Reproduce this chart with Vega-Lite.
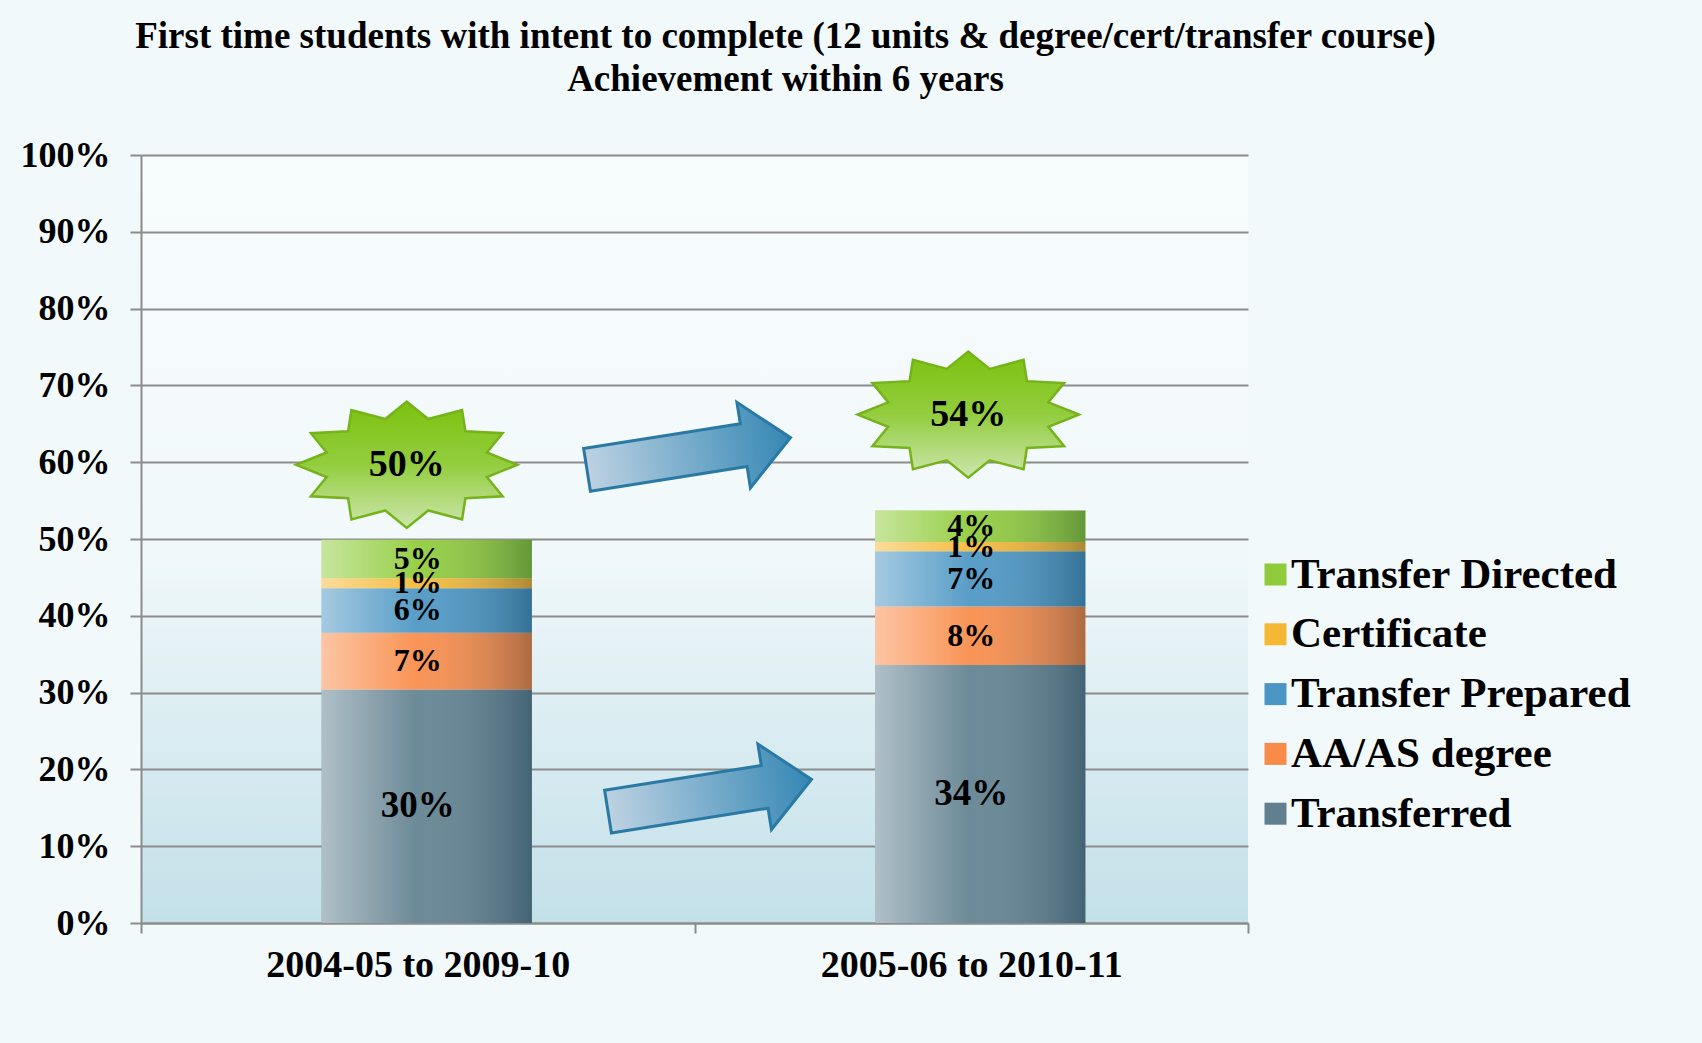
{
  "$schema": "https://vega.github.io/schema/vega-lite/v6.json",
  "width": 1107,
  "height": 768,
  "autosize": {"type": "none"},
  "padding": {"left": 141, "top": 155, "right": 454, "bottom": 120},
  "background": "#f2f9fb",
  "title": {
    "text": ["First time students with intent to complete (12 units & degree/cert/transfer course)", "Achievement within 6 years"],
    "font": "Liberation Serif",
    "fontSize": 37,
    "fontWeight": "bold",
    "color": "black",
    "anchor": "middle",
    "frame": "group",
    "dx": 91,
    "offset": 38,
    "lineHeight": 43
  },
  "datasets": {
    "segments": [
      {"period": "2004-05 to 2009-10", "category": "Transferred", "rank": 1, "value": 30.4, "label": "30%"},
      {"period": "2004-05 to 2009-10", "category": "AA/AS degree", "rank": 2, "value": 7.4, "label": "7%"},
      {"period": "2004-05 to 2009-10", "category": "Transfer Prepared", "rank": 3, "value": 5.8, "label": "6%"},
      {"period": "2004-05 to 2009-10", "category": "Certificate", "rank": 4, "value": 1.3, "label": "1%"},
      {"period": "2004-05 to 2009-10", "category": "Transfer Directed", "rank": 5, "value": 5.0, "label": "5%"},
      {"period": "2005-06 to 2010-11", "category": "Transferred", "rank": 1, "value": 33.6, "label": "34%"},
      {"period": "2005-06 to 2010-11", "category": "AA/AS degree", "rank": 2, "value": 7.6, "label": "8%"},
      {"period": "2005-06 to 2010-11", "category": "Transfer Prepared", "rank": 3, "value": 7.2, "label": "7%"},
      {"period": "2005-06 to 2010-11", "category": "Certificate", "rank": 4, "value": 1.2, "label": "1%"},
      {"period": "2005-06 to 2010-11", "category": "Transfer Directed", "rank": 5, "value": 4.1, "label": "4%"}
    ],
    "totals": [
      {"period": "2004-05 to 2009-10", "total": 49.9, "label": "50%"},
      {"period": "2005-06 to 2010-11", "total": 53.7, "label": "54%"}
    ]
  },
  "layer": [
    {
      "data": {"name": "segments"},
      "mark": {"type": "bar", "width": {"band": 0.38}, "xOffset": 9},
      "encoding": {
        "x": {"field": "period", "type": "nominal", "title": null, "scale": {"paddingInner": 0, "paddingOuter": 0}},
        "y": {"field": "value", "type": "quantitative", "stack": "zero", "title": null,
              "scale": {"domain": [0, 100]},
              "axis": {"values": [0, 10, 20, 30, 40, 50, 60, 70, 80, 90, 100], "labelExpr": "datum.value + '%'"}},
        "color": {
          "field": "category", "type": "nominal",
          "scale": {
            "domain": ["Transfer Directed", "Certificate", "Transfer Prepared", "AA/AS degree", "Transferred"],
            "range": ["#8fcb3a", "#f5b835", "#4a95c3", "#f98b48", "#60808f"]
          },
          "legend": {
            "orient": "none", "legendX": 1113, "legendY": 398, "title": null,
            "labelFont": "Liberation Serif", "labelFontSize": 43, "labelFontWeight": "bold", "labelColor": "black",
            "labelLimit": 600, "symbolType": "square", "symbolSize": 484, "symbolStrokeWidth": 0,
            "rowPadding": 15.8, "labelOffset": -6, "padding": 0
          }
        },
        "order": {"field": "rank", "type": "quantitative"}
      }
    },
    {
      "data": {"name": "segments"},
      "mark": {
        "type": "bar", "width": {"band": 0.38}, "xOffset": 9,
        "fill": {"gradient": "linear", "x1": 0, "x2": 1, "y1": 0, "y2": 0,
                 "stops": [
                   {"offset": 0, "color": "rgba(255,255,255,0.5)"},
                   {"offset": 0.45, "color": "rgba(255,255,255,0.08)"},
                   {"offset": 1, "color": "rgba(0,30,50,0.3)"}
                 ]}
      },
      "encoding": {
        "x": {"field": "period", "type": "nominal", "title": null},
        "y": {"field": "value", "type": "quantitative", "stack": "zero", "title": null},
        "detail": {"field": "category"},
        "order": {"field": "rank", "type": "quantitative"}
      }
    },
    {
      "data": {"name": "segments"},
      "mark": {"type": "text", "font": "Liberation Serif", "fontWeight": "bold", "color": "black", "baseline": "middle"},
      "encoding": {
        "x": {"field": "period", "type": "nominal", "title": null},
        "y": {"field": "value", "type": "quantitative", "stack": "zero", "bandPosition": 0.5, "title": null},
        "detail": {"field": "category"},
        "order": {"field": "rank", "type": "quantitative"},
        "text": {"field": "label"},
        "size": {"condition": {"test": "datum.category === 'Transferred'", "value": 37}, "value": 32}
      }
    },
    {
      "data": {"name": "totals"},
      "transform": [{"filter": "datum.period === '2004-05 to 2009-10'"}],
      "layer": [
        {
          "mark": {
            "type": "point",
            "shape": "M1,0L0.724,0.111L0.866,0.285L0.53,0.302L0.5,0.494L0.194,0.413L0,0.57L-0.194,0.413L-0.5,0.494L-0.53,0.302L-0.866,0.285L-0.724,0.111L-1,0L-0.724,-0.111L-0.866,-0.285L-0.53,-0.302L-0.5,-0.494L-0.194,-0.413L0,-0.57L0.194,-0.413L0.5,-0.494L0.53,-0.302L0.866,-0.285L0.724,-0.111Z",
            "size": 49000, "filled": true, "opacity": 1, "xOffset": -11, "yOffset": -75,
            "fill": {"gradient": "linear", "x1": 0, "x2": 0, "y1": 0, "y2": 1,
                     "stops": [{"offset": 0, "color": "#7cc20e"}, {"offset": 0.5, "color": "#93cd3f"}, {"offset": 1, "color": "#cde6ae"}]},
            "stroke": "#76b31a", "strokeWidth": 2.5
          }
        },
        {
          "mark": {"type": "text", "font": "Liberation Serif", "fontWeight": "bold", "fontSize": 38, "color": "black", "baseline": "middle", "xOffset": -11, "yOffset": -75},
          "encoding": {"text": {"field": "label"}}
        }
      ],
      "encoding": {
        "x": {"field": "period", "type": "nominal", "title": null},
        "y": {"field": "total", "type": "quantitative", "title": null}
      }
    },
    {
      "data": {"name": "totals"},
      "transform": [{"filter": "datum.period === '2005-06 to 2010-11'"}],
      "layer": [
        {
          "mark": {
            "type": "point",
            "shape": "M1,0L0.724,0.111L0.866,0.285L0.53,0.302L0.5,0.494L0.194,0.413L0,0.57L-0.194,0.413L-0.5,0.494L-0.53,0.302L-0.866,0.285L-0.724,0.111L-1,0L-0.724,-0.111L-0.866,-0.285L-0.53,-0.302L-0.5,-0.494L-0.194,-0.413L0,-0.57L0.194,-0.413L0.5,-0.494L0.53,-0.302L0.866,-0.285L0.724,-0.111Z",
            "size": 49000, "filled": true, "opacity": 1, "xOffset": -3, "yOffset": -96,
            "fill": {"gradient": "linear", "x1": 0, "x2": 0, "y1": 0, "y2": 1,
                     "stops": [{"offset": 0, "color": "#7cc20e"}, {"offset": 0.5, "color": "#93cd3f"}, {"offset": 1, "color": "#cde6ae"}]},
            "stroke": "#76b31a", "strokeWidth": 2.5
          }
        },
        {
          "mark": {"type": "text", "font": "Liberation Serif", "fontWeight": "bold", "fontSize": 38, "color": "black", "baseline": "middle", "xOffset": -3, "yOffset": -96},
          "encoding": {"text": {"field": "label"}}
        }
      ],
      "encoding": {
        "x": {"field": "period", "type": "nominal", "title": null},
        "y": {"field": "total", "type": "quantitative", "title": null}
      }
    },
    {
      "data": {"name": "totals"},
      "transform": [{"filter": "datum.period === '2004-05 to 2009-10'"}],
      "mark": {
        "type": "point",
        "shape": "M-1,-0.21L0.54,-0.21L0.54,-0.42L1,0L0.54,0.42L0.54,0.21L-1,0.21Z",
        "size": 42436, "angle": 351, "filled": true, "opacity": 1, "xOffset": 271, "yOffset": -86,
        "fill": {"gradient": "linear", "x1": 0, "x2": 1, "y1": 0, "y2": 0,
                 "stops": [{"offset": 0, "color": "#bdd2e2"}, {"offset": 1, "color": "#3587b4"}]},
        "stroke": "#2a79a5", "strokeWidth": 3
      },
      "encoding": {
        "x": {"field": "period", "type": "nominal", "title": null},
        "y": {"field": "total", "type": "quantitative", "title": null}
      }
    },
    {
      "data": {"name": "segments"},
      "transform": [{"filter": "datum.period === '2004-05 to 2009-10' && datum.category === 'Transferred'"}],
      "mark": {
        "type": "point",
        "shape": "M-1,-0.21L0.54,-0.21L0.54,-0.42L1,0L0.54,0.42L0.54,0.21L-1,0.21Z",
        "size": 42436, "angle": 351, "filled": true, "opacity": 1, "xOffset": 292, "yOffset": 106,
        "fill": {"gradient": "linear", "x1": 0, "x2": 1, "y1": 0, "y2": 0,
                 "stops": [{"offset": 0, "color": "#bdd2e2"}, {"offset": 1, "color": "#3587b4"}]},
        "stroke": "#2a79a5", "strokeWidth": 3
      },
      "encoding": {
        "x": {"field": "period", "type": "nominal", "title": null},
        "y": {"field": "value", "type": "quantitative", "title": null}
      }
    }
  ],
  "config": {
    "view": {"stroke": null,
             "fill": {"gradient": "linear", "x1": 0, "x2": 0, "y1": 0, "y2": 1,
                      "stops": [{"offset": 0, "color": "#f7fcfd"}, {"offset": 0.5, "color": "#f2f9fb"}, {"offset": 1, "color": "#c3e0e9"}]}},
    "axis": {
      "labelFont": "Liberation Serif", "labelFontWeight": "bold", "labelColor": "black", "labelLimit": 600,
      "domainColor": "#8c8c8c", "domainWidth": 2, "tickColor": "#8c8c8c", "tickWidth": 2,
      "gridColor": "#8c8c8c", "gridWidth": 2
    },
    "axisY": {"grid": true, "labelFontSize": 36, "tickSize": 11, "labelPadding": 20},
    "axisX": {"grid": false, "labelAngle": 0, "labelFontSize": 38, "tickSize": 10, "labelPadding": 13, "tickBand": "extent"}
  }
}
